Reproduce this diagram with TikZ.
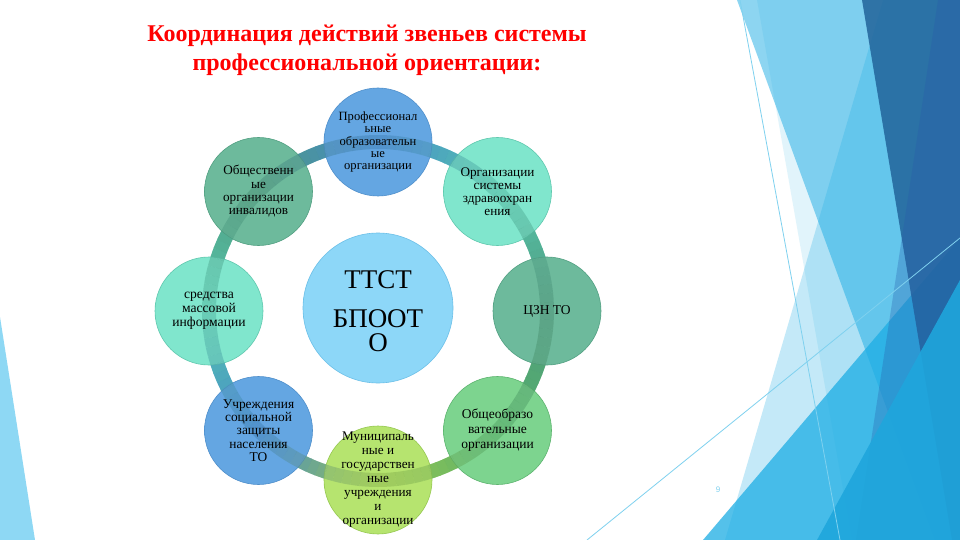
\documentclass[tikz,border=0pt]{standalone}
\usepackage{fontspec}
\setmainfont{Liberation Serif}
\newfontfamily\numfont{Liberation Sans}
\definecolor{facet}{HTML}{1CADE4}
\definecolor{facetdark}{HTML}{22649A}
\definecolor{facetB}{HTML}{285AAA}
\definecolor{facetS}{HTML}{1FA6DC}
\definecolor{thinline}{HTML}{7FD1EF}
\definecolor{leftwedge}{HTML}{8ED8F4}
% node colours
\definecolor{blueF}{HTML}{64A6E2}\definecolor{blueR}{HTML}{93C5EF}\definecolor{blueD}{HTML}{4F8FCB}
\definecolor{aquaF}{HTML}{80E6CD}\definecolor{aquaR}{HTML}{A8F2E0}\definecolor{aquaD}{HTML}{5FC8AE}
\definecolor{seaF}{HTML}{6DBA9C}\definecolor{seaR}{HTML}{90D4B8}\definecolor{seaD}{HTML}{52A082}
\definecolor{greenF}{HTML}{7DD48F}\definecolor{greenR}{HTML}{A2E5AE}\definecolor{greenD}{HTML}{5DB46F}
\definecolor{yelF}{HTML}{B6E46F}\definecolor{yelR}{HTML}{D0F296}\definecolor{yelD}{HTML}{95C850}
\definecolor{skyF}{HTML}{8DD7F8}\definecolor{skyR}{HTML}{B3E8FC}\definecolor{skyD}{HTML}{6CC0E8}
% ring colours
\definecolor{rB}{HTML}{4B97DC}
\definecolor{rA}{HTML}{5FD9BE}
\definecolor{rS}{HTML}{57A98A}
\definecolor{rG}{HTML}{5EC274}
\definecolor{rY}{HTML}{A8D85A}
\pgfdeclareradialshading{ballblue}{\pgfpoint{0bp}{0bp}}{color(0bp)=(blueF); color(42bp)=(blueF); color(48bp)=(blueR); color(50bp)=(blueD)}
\pgfdeclareradialshading{ballaqua}{\pgfpoint{0bp}{0bp}}{color(0bp)=(aquaF); color(42bp)=(aquaF); color(48bp)=(aquaR); color(50bp)=(aquaD)}
\pgfdeclareradialshading{ballsea}{\pgfpoint{0bp}{0bp}}{color(0bp)=(seaF); color(42bp)=(seaF); color(48bp)=(seaR); color(50bp)=(seaD)}
\pgfdeclareradialshading{ballgreen}{\pgfpoint{0bp}{0bp}}{color(0bp)=(greenF); color(42bp)=(greenF); color(48bp)=(greenR); color(50bp)=(greenD)}
\pgfdeclareradialshading{ballyel}{\pgfpoint{0bp}{0bp}}{color(0bp)=(yelF); color(42bp)=(yelF); color(48bp)=(yelR); color(50bp)=(yelD)}
\pgfdeclareradialshading{ballsky}{\pgfpoint{0bp}{0bp}}{color(0bp)=(skyF); color(44bp)=(skyF); color(48.5bp)=(skyR); color(50bp)=(skyD)}
\tikzset{
  ball/.style={circle, minimum size=108pt, inner sep=0pt, line width=0.6pt},
  balltext/.style={align=center, inner sep=0pt, text=black, font=\fontsize{13.2}{13.4}\selectfont},
  bigtext/.style={anchor=base, inner sep=0pt, text=black, text height=18pt, text depth=0pt, font=\fontsize{27}{30}\selectfont},
  titletext/.style={anchor=base, inner sep=0pt, text=red, font=\fontsize{24}{29}\selectfont\bfseries},
  ringseg/.style={line width=14pt},
}
\begin{document}
\begin{tikzpicture}[x=1pt,y=-1pt]
\useasboundingbox (0,0) rectangle (960,540);
\fill[white] (0,0) rectangle (960,540);
% ---- decoration, left
\fill[leftwedge] (0,317) -- (35,540) -- (0,540) -- cycle;
% ---- decoration, right
\fill[facet, fill opacity=0.50] (737,0) -- (960,0) -- (960,540) -- (935,540) -- cycle;
\fill[facet, fill opacity=0.13] (757,0) -- (960,0) -- (960,540) -- (852,540) -- cycle;
\fill[facet, fill opacity=0.26] (883,0) -- (960,0) -- (960,540) -- (725,540) -- cycle;
\fill[facet, fill opacity=0.75] (703,540) -- (960,238) -- (960,540) -- cycle;
\fill[facetdark, fill opacity=0.85] (862,0) -- (960,0) -- (960,540) -- (952,540) -- cycle;
\fill[facetB, fill opacity=0.30] (938,0) -- (960,0) -- (960,540) -- (856,540) -- cycle;
\fill[facetS, fill opacity=0.90] (817,540) -- (960,280) -- (960,540) -- cycle;
\coordinate (t1a) at (740,0); \coordinate (t1b) at (840,540);
\coordinate (t2a) at (587,540); \coordinate (t2b) at (960,238);
\draw[thinline, line width=0.8pt] (t1a) -- (t1b);
\draw[thinline, line width=0.8pt] (t2a) -- (t2b);
\node[font=\numfont\fontsize{8}{9}\selectfont, text=thinline, inner sep=0pt] (pnum) at (718,490) {9};
% ---- ring (base)
\coordinate (ctr) at (378,311);
\foreach \k/\ca/\cb in {0/rB/rA,1/rA/rS,2/rS/rG,3/rG/rY,4/rY/rB,5/rB/rA,6/rA/rS,7/rS/rB} {
  \foreach \s in {0,...,14} {
    \pgfmathsetmacro\aa{90-45*\k-3*\s}
    \pgfmathsetmacro\ab{\aa-3.4}
    \pgfmathsetmacro\pp{100-100*(\s+0.5)/15}
    \colorlet{segc}{\ca!\pp!\cb}
    \draw[ringseg, segc] ([shift={(\aa:169pt)}]ctr) arc[start angle=\aa, end angle=\ab, radius=169pt];
  }
}
% ---- circles
\node[ball, shading=ballsky, draw=skyD, minimum size=150pt] (c0) at (378,308) {};
\node[ball, shading=ballblue, draw=blueD] (c1) at (378,142) {};
\node[ball, shading=ballaqua, draw=aquaD] (c2) at (497.5,191.5) {};
\node[ball, shading=ballsea, draw=seaD] (c3) at (547,311) {};
\node[ball, shading=ballgreen, draw=greenD] (c4) at (497.5,430.5) {};
\node[ball, shading=ballyel, draw=yelD] (c5) at (378,480) {};
\node[ball, shading=ballblue, draw=blueD] (c6) at (258.5,430.5) {};
\node[ball, shading=ballaqua, draw=aquaD] (c7) at (209,311) {};
\node[ball, shading=ballsea, draw=seaD] (c8) at (258.5,191.5) {};
% ---- ring (overlay through the circles)
\foreach \k/\ca/\cb in {0/rB/rA,1/rA/rS,2/rS/rG,3/rG/rY,4/rY/rB,5/rB/rA,6/rA/rS,7/rS/rB} {
  \foreach \s in {0,...,14} {
    \pgfmathsetmacro\aa{90-45*\k-3*\s}
    \pgfmathsetmacro\ab{\aa-3}
    \pgfmathsetmacro\pp{100-100*(\s+0.5)/15}
    \colorlet{segc}{\ca!\pp!\cb}
    \draw[ringseg, segc!82!black, draw opacity=0.45] ([shift={(\aa:169pt)}]ctr) arc[start angle=\aa, end angle=\ab, radius=169pt];
  }
}
% ---- texts
\node[bigtext] (x0a) at (378,288) {ТТСТ};
\node[bigtext] (x0b) at (378,327) {БПООТ};
\node[bigtext] (x0c) at (378,351.5) {О};
\node[balltext, font=\fontsize{12.6}{12.4}\selectfont] (x1) at (c1) {Профессионал\\ьные\\образовательн\\ые\\организации};
\node[balltext, font=\fontsize{13.2}{12.8}\selectfont] (x2) at (c2) {Организации\\системы\\здравоохран\\ения};
\node[balltext, font=\fontsize{13.5}{14}\selectfont] (x3) at (c3) {ЦЗН ТО};
\node[balltext, font=\fontsize{13.5}{15}\selectfont] (x4) at (c4) {Общеобразо\\вательные\\организации};
\node[balltext, font=\fontsize{13.2}{14}\selectfont] (x5) at (c5) {Муниципаль\\ные и\\государствен\\ные\\учреждения\\и\\организации};
\node[balltext, font=\fontsize{13.4}{13.3}\selectfont] (x6) at (c6) {Учреждения\\социальной\\защиты\\населения\\ТО};
\node[balltext, font=\fontsize{13.6}{14}\selectfont] (x7) at (c7) {средства\\массовой\\информации};
\node[balltext, font=\fontsize{13.2}{13.3}\selectfont] (x8) at (c8) {Общественн\\ые\\организации\\инвалидов};
% ---- title
\node[titletext] (ti1) at (367,42) {Координация действий звеньев системы};
\node[titletext] (ti2) at (367,71) {профессиональной ориентации:};
\end{tikzpicture}
\end{document}
